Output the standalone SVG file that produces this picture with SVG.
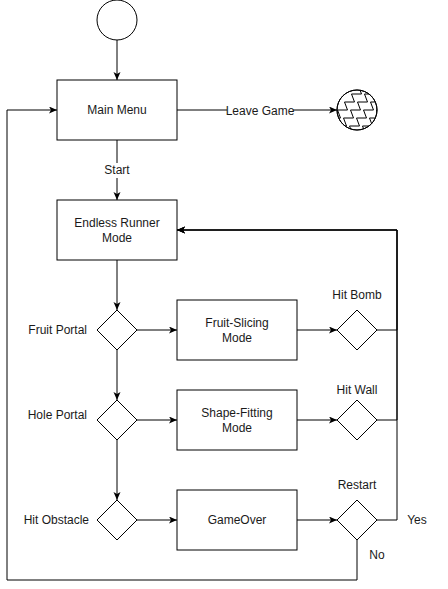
<svg xmlns="http://www.w3.org/2000/svg" width="448" height="589" viewBox="0 0 448 589">
<defs>
<style>
.n{fill:#fff;stroke:#000;stroke-width:1}
.e{fill:none;stroke:#000;stroke-width:1}
text{font-family:"Liberation Sans",Arial,sans-serif;font-size:12px;fill:#1a1a1a;dominant-baseline:central}
.c{text-anchor:middle}
.r{text-anchor:end}
.bg{fill:#fff}
</style>
<marker id="a" markerWidth="10" markerHeight="8" refX="8" refY="3.5" orient="auto" markerUnits="userSpaceOnUse">
<path d="M0,0 L8,3.5 L0,7 L2,3.5 z" fill="#000"/>
</marker>
<clipPath id="cc"><circle cx="357" cy="110" r="20"/></clipPath>
<path id="zz" d="M0,0 h10 l-3,-8 h10 l-3,-8 h10 l-3,-8 h10 l-3,-8 h10 l-3,-8 h10 l-3,-8 h10"/>
</defs>
<rect width="448" height="589" fill="#fff"/>
<g id="connectors">
<path class="e" d="M117,40 L117,80" marker-end="url(#a)"/>
<path class="e" d="M177,110 L337,110" marker-end="url(#a)"/>
<path class="e" d="M117,140 L117,200" marker-end="url(#a)"/>
<path class="e" d="M117,260 L117,310" marker-end="url(#a)"/>
<path class="e" d="M137,330 L177,330" marker-end="url(#a)"/>
<path class="e" d="M297,330 L337,330" marker-end="url(#a)"/>
<path class="e" d="M377,330 L397,330 L397,230 L177,230" marker-end="url(#a)"/>
<path class="e" d="M117,350 L117,400" marker-end="url(#a)"/>
<path class="e" d="M137,420 L177,420" marker-end="url(#a)"/>
<path class="e" d="M297,420 L337,420" marker-end="url(#a)"/>
<path class="e" d="M377,420 L397,420 L397,230 L177,230" marker-end="url(#a)"/>
<path class="e" d="M117,440 L117,500" marker-end="url(#a)"/>
<path class="e" d="M137,520 L177,520" marker-end="url(#a)"/>
<path class="e" d="M297,520 L337,520" marker-end="url(#a)"/>
<path class="e" d="M377,520 L397,520 L397,230 L177,230" marker-end="url(#a)"/>
<path class="e" d="M357,540 L357,580 L7,580 L7,110 L57,110" marker-end="url(#a)"/>
<rect class="bg" x="227" y="103" width="66" height="15"/>
<text class="c" x="260" y="111">Leave Game</text>
<rect class="bg" x="104" y="163" width="26" height="15"/>
<text class="c" x="117" y="170">Start</text>
<text class="c" x="417" y="520">Yes</text>
<text class="c" x="377" y="555">No</text>
</g>
<g id="start"><circle class="n" cx="117" cy="20" r="20"/></g>
<g id="end">
<circle class="n" cx="357" cy="110" r="20"/>
<g clip-path="url(#cc)" class="e">
<use href="#zz" x="316.5" y="134"/>
<use href="#zz" x="329.5" y="134"/>
<use href="#zz" x="342.5" y="134"/>
<use href="#zz" x="355.5" y="134"/>
</g>
<circle class="e" cx="357" cy="110" r="20"/>
</g>
<g id="mainmenu"><rect class="n" x="57" y="80" width="120" height="60"/><text class="c" x="117" y="110">Main Menu</text></g>
<g id="endless"><rect class="n" x="57" y="200" width="120" height="60"/><text class="c" x="117" y="223">Endless Runner</text><text class="c" x="117" y="238">Mode</text></g>
<g id="fruitportal"><path class="n" d="M117,310 L137,330 L117,350 L97,330 Z"/><text class="r" x="87" y="330">Fruit Portal</text></g>
<g id="holeportal"><path class="n" d="M117,400 L137,420 L117,440 L97,420 Z"/><text class="r" x="87" y="415">Hole Portal</text></g>
<g id="hitobstacle"><path class="n" d="M117,500 L137,520 L117,540 L97,520 Z"/><text class="r" x="89" y="520">Hit Obstacle</text></g>
<g id="fruitslicing"><rect class="n" x="177" y="300" width="120" height="60"/><text class="c" x="237" y="323">Fruit-Slicing</text><text class="c" x="237" y="338">Mode</text></g>
<g id="shapefitting"><rect class="n" x="177" y="390" width="120" height="60"/><text class="c" x="237" y="413">Shape-Fitting</text><text class="c" x="237" y="428">Mode</text></g>
<g id="gameover"><rect class="n" x="177" y="490" width="120" height="60"/><text class="c" x="237" y="520">GameOver</text></g>
<g id="hitbomb"><path class="n" d="M357,310 L377,330 L357,350 L337,330 Z"/><text class="c" x="357" y="295">Hit Bomb</text></g>
<g id="hitwall"><path class="n" d="M357,400 L377,420 L357,440 L337,420 Z"/><text class="c" x="357" y="390">Hit Wall</text></g>
<g id="restart"><path class="n" d="M357,500 L377,520 L357,540 L337,520 Z"/><text class="c" x="357" y="485">Restart</text></g>
</svg>
